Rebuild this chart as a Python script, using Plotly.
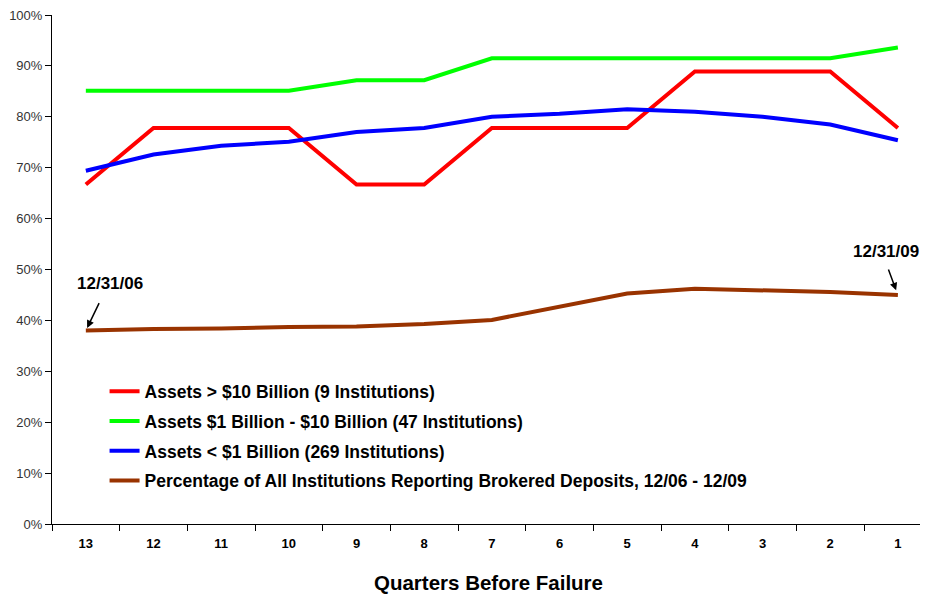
import plotly.graph_objects as go

# | data section |
quarters = ["13", "12", "11", "10", "9", "8", "7", "6", "5", "4", "3", "2", "1"]

assets_over_10b = [66.7, 77.8, 77.8, 77.8, 66.7, 66.7, 77.8, 77.8, 77.8, 88.9, 88.9, 88.9, 77.8]
assets_1b_10b = [85.1, 85.1, 85.1, 85.1, 87.2, 87.2, 91.5, 91.5, 91.5, 91.5, 91.5, 91.5, 93.6]
assets_under_1b = [69.4, 72.6, 74.3, 75.1, 77.0, 77.8, 80.0, 80.6, 81.5, 81.0, 80.0, 78.5, 75.4]
all_institutions = [38.0, 38.3, 38.4, 38.7, 38.8, 39.3, 40.1, 42.7, 45.3, 46.2, 45.9, 45.6, 45.0]

series_names = [
    "Assets > $10 Billion (9 Institutions)",
    "Assets $1 Billion - $10 Billion (47 Institutions)",
    "Assets < $1 Billion (269 Institutions)",
    "Percentage of All Institutions Reporting Brokered Deposits, 12/06 - 12/09",
]
series_values = [assets_over_10b, assets_1b_10b, assets_under_1b, all_institutions]
series_colors = ["#FF0000", "#00FF00", "#0000FF", "#993300"]

y_ticks = list(range(0, 101, 10))
y_tick_labels = [f"{v}%" for v in y_ticks]

# | graph section |
fig = go.Figure()

for i, (name, values, color) in enumerate(zip(series_names, series_values, series_colors)):
    fig.add_trace(
        go.Scatter(
            x=quarters,
            y=values,
            name=name,
            mode="lines",
            line={"color": color, "width": 4},
            legendgroup=f"g{i}",
        )
    )

# --- date annotations (arrow + label drawn separately), x given as category index
first, last = 0, len(quarters) - 1
fig.add_annotation(
    x=first, y=all_institutions[first], text="", showarrow=True,
    ax=14, ay=-29, arrowhead=2, arrowsize=1, arrowwidth=1.5, arrowcolor="black", standoff=3,
)
fig.add_annotation(
    x=first, y=all_institutions[first], text="<b>12/31/06</b>", showarrow=False,
    xshift=24, yshift=47, font={"size": 17, "color": "black"},
)
fig.add_annotation(
    x=last, y=all_institutions[last], text="", showarrow=True,
    ax=-10, ay=-27, arrowhead=2, arrowsize=1, arrowwidth=1.5, arrowcolor="black", standoff=5,
)
fig.add_annotation(
    x=last, y=all_institutions[last], text="<b>12/31/09</b>", showarrow=False,
    xshift=-12, yshift=43, font={"size": 17, "color": "black"},
)

# --- axis title as annotation
fig.add_annotation(
    x=0.498, y=-0.114, xref="paper", yref="paper", text="<b>Quarters Before Failure</b>",
    showarrow=False, yanchor="middle", font={"size": 20.5, "color": "black"},
)

# page body keeps an 8px margin, so the figure is 8px smaller than the window
fig.update_layout(
    width=920,
    height=586,
    margin={"l": 44, "r": 0, "t": 7, "b": 70},
    paper_bgcolor="white",
    plot_bgcolor="white",
    font={"family": "Liberation Sans, Arial, sans-serif", "color": "black"},
    showlegend=True,
    legend={
        "x": 0.06,
        "y": 0.296,
        "xanchor": "left",
        "yanchor": "top",
        "font": {"size": 17.5, "color": "black", "weight": "bold"},
        "bgcolor": "rgba(0,0,0,0)",
        "tracegroupgap": 4,
    },
    xaxis={
        "type": "category",
        "range": [-0.5, 12.445],
        "showgrid": False,
        "zeroline": False,
        "showline": True,
        "linecolor": "black",
        "linewidth": 1,
        "ticks": "outside",
        "ticklen": 6,
        "tickcolor": "black",
        "tickson": "boundaries",
        "ticklabelstandoff": 7,
        "tickfont": {"size": 13, "color": "black", "weight": "bold"},
    },
    yaxis={
        "range": [0, 100],
        "tickvals": y_ticks,
        "ticktext": y_tick_labels,
        "showgrid": False,
        "zeroline": False,
        "showline": True,
        "linecolor": "black",
        "linewidth": 1,
        "ticks": "outside",
        "ticklen": 6,
        "tickcolor": "black",
        "ticklabeloverflow": "allow",
        "tickfont": {"size": 13, "color": "#333333"},
    },
)

fig.write_html("out.html")
